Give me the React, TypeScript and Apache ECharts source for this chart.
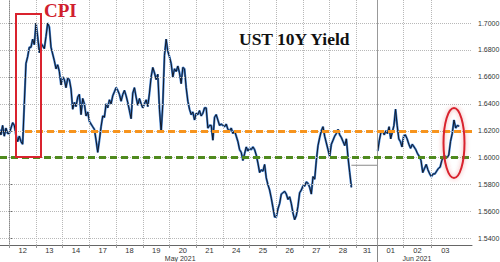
import React, { useEffect, useRef } from 'react';
import * as echarts from 'echarts';

// ---- data ----
const dayLabels = ['12', '13', '14', '17', '18', '19', '20', '21', '24', '25', '26', '27', '28', '31', '01', '02', '03'];
const dayStart = [0, 1, 2, 3, 4, 5, 6, 7, 8, 9, 10, 11, 12, 13, 13.8, 14.77, 15.81];
const dayWidth = [1, 1, 1, 1, 1, 1, 1, 1, 1, 1, 1, 1, 1, 0.8, 0.97, 1.04, 1.04];
const slotsPerDay = 16;

const preSessionStart = -0.375;
const preSessionValues = [1.621, 1.617, 1.624, 1.616, 1.622, 1.618];

const dayValues: number[][] = [
  [1.618, 1.622, 1.626, 1.624, 1.617, 1.612, 1.616, 1.612, 1.61, 1.64, 1.67, 1.675, 1.682, 1.682, 1.688, 1.684],
  [1.7, 1.69, 1.678, 1.685, 1.683, 1.681, 1.69, 1.7, 1.697, 1.682, 1.677, 1.672, 1.666, 1.669, 1.664, 1.654],
  [1.66, 1.658, 1.652, 1.659, 1.658, 1.651, 1.636, 1.641, 1.638, 1.645, 1.647, 1.632, 1.644, 1.64, 1.631, 1.634],
  [1.627, 1.625, 1.623, 1.621, 1.613, 1.604, 1.613, 1.623, 1.631, 1.63, 1.64, 1.637, 1.643, 1.64, 1.646, 1.649],
  [1.652, 1.65, 1.647, 1.642, 1.647, 1.65, 1.646, 1.641, 1.635, 1.629, 1.648, 1.652, 1.645, 1.639, 1.644, 1.64],
  [1.637, 1.64, 1.643, 1.638, 1.648, 1.66, 1.667, 1.663, 1.658, 1.662, 1.636, 1.619, 1.64, 1.676, 1.688, 1.679],
  [1.675, 1.67, 1.66, 1.666, 1.664, 1.668, 1.663, 1.655, 1.667, 1.666, 1.652, 1.642, 1.636, 1.632, 1.634, 1.628],
  [1.633, 1.632, 1.635, 1.631, 1.633, 1.637, 1.637, 1.622, 1.624, 1.624, 1.613, 1.63, 1.632, 1.628, 1.624, 1.625],
  [1.624, 1.623, 1.625, 1.621, 1.62, 1.622, 1.618, 1.62, 1.616, 1.612, 1.606, 1.604, 1.598, 1.603, 1.608, 1.605],
  [1.607, 1.606, 1.608, 1.606, 1.602, 1.596, 1.589, 1.591, 1.59, 1.595, 1.585, 1.58, 1.576, 1.57, 1.563, 1.556],
  [1.556, 1.562, 1.566, 1.573, 1.574, 1.575, 1.573, 1.569, 1.571, 1.566, 1.559, 1.554, 1.557, 1.564, 1.574, 1.576],
  [1.579, 1.579, 1.582, 1.581, 1.578, 1.573, 1.586, 1.584, 1.598, 1.609, 1.615, 1.62, 1.623, 1.616, 1.611, 1.606],
  [1.601, 1.61, 1.613, 1.616, 1.618, 1.621, 1.617, 1.615, 1.612, 1.609, 1.614, 1.6, 1.589, 1.578],
  [],
  [1.605, 1.613, 1.619, 1.62, 1.617, 1.62, 1.618, 1.623, 1.614, 1.619, 1.624, 1.636, 1.624, 1.614, 1.612, 1.608],
  [1.616, 1.617, 1.614, 1.61, 1.607, 1.61, 1.608, 1.606, 1.603, 1.601, 1.598, 1.589, 1.592, 1.595, 1.591, 1.588],
  [1.586, 1.588, 1.588, 1.59, 1.592, 1.593, 1.598, 1.601, 1.601, 1.6, 1.602, 1.612, 1.618, 1.628, 1.622, 1.624, 1.6233],
];

const holidayClose = 1.5944;
const lastPrice = 1.6233;
const cpiLevel = 1.62;
const cpiLineStart = 0.59;
const supportLevel = 1.6;
const yTicks = [1.54, 1.56, 1.58, 1.6, 1.62, 1.64, 1.66, 1.68, 1.7];
const monthLabels = ['May 2021', 'Jun 2021'];
const monthLabelPos = [6.4, 15.27];
const monthBoundary = 13.8;
const xMin = -0.348;
const xMax = 17.33;
const yMin = 1.5352;
const yMax = 1.7171;

export default function App() {
  const ref = useRef<HTMLDivElement>(null);

  useEffect(() => {
    if (!ref.current) return;
    const chart = echarts.init(ref.current, undefined, { renderer: 'svg' });

    const yieldData: any[] = [];
    preSessionValues.forEach((v, i) => yieldData.push([preSessionStart + i / slotsPerDay, v]));
    dayValues.forEach((vals, k) => {
      if (!vals.length) {
        yieldData.push([dayStart[k], '-']);
        return;
      }
      vals.forEach((v, i) => yieldData.push([dayStart[k] + (i * dayWidth[k]) / slotsPerDay, v]));
    });

    const idx28 = dayLabels.indexOf('28');
    const holidayStartX = dayStart[idx28] + ((dayValues[idx28].length - 1) * dayWidth[idx28]) / slotsPerDay;
    const holidayData = [
      [holidayStartX, holidayClose],
      [monthBoundary, holidayClose],
    ];

    const boundaries = dayStart.filter((b) => Math.abs(b - monthBoundary) > 1e-6);
    const centers = dayStart.map((s, i) => s + dayWidth[i] / 2);

    const gridLineStyle = { type: 'dotted' as const, color: '#b8b8b8', width: 1 };
    const fontAxis = 'Liberation Sans';

    chart.setOption({
      animation: false,
      backgroundColor: '#ffffff',
      grid: { left: 0, right: 28, top: 0, bottom: 17, containLabel: false, outerBoundsMode: 'none' },
      xAxis: [
        {
          type: 'value',
          min: xMin,
          max: xMax,
          position: 'bottom',
          axisLine: { show: true, lineStyle: { color: '#666', width: 1 } },
          axisTick: { show: true, customValues: boundaries, length: 3, lineStyle: { color: '#999' } },
          axisLabel: {
            customValues: centers,
            margin: 2,
            fontSize: 7.5,
            lineHeight: 7,
            fontFamily: fontAxis,
            color: '#333',
            formatter: (v: number) => {
              const i = centers.findIndex((c) => Math.abs(c - v) < 1e-6);
              return i >= 0 ? dayLabels[i] : '';
            },
          },
          splitLine: { show: false },
        },
        {
          type: 'value',
          min: xMin,
          max: xMax,
          position: 'bottom',
          axisLine: { show: false },
          axisTick: { show: true, customValues: [monthBoundary], length: 17, lineStyle: { color: '#888', width: 1 } },
          axisLabel: {
            customValues: monthLabelPos,
            margin: 9.5,
            fontSize: 7,
            lineHeight: 7,
            fontFamily: fontAxis,
            color: '#333',
            formatter: (v: number) => {
              const i = monthLabelPos.findIndex((c) => Math.abs(c - v) < 1e-6);
              return i >= 0 ? monthLabels[i] : '';
            },
          },
          splitLine: { show: false },
        },
      ],
      yAxis: {
        type: 'value',
        min: yMin,
        max: yMax,
        position: 'right',
        axisLine: { show: true, lineStyle: { color: '#888', width: 1 } },
        axisTick: { show: true, customValues: yTicks, length: 3, lineStyle: { color: '#666' } },
        axisLabel: {
          customValues: yTicks,
          margin: 6,
          fontSize: 7,
          lineHeight: 7,
          fontFamily: fontAxis,
          color: '#333',
          formatter: (v: number) => v.toFixed(4),
        },
        splitLine: { show: false },
      },
      series: [
        {
          type: 'line',
          name: 'holiday',
          data: holidayData,
          symbol: 'none',
          z: 1,
          lineStyle: { color: '#8a8a8a', width: 1 },
          markLine: {
            silent: true,
            symbol: ['none', 'none'],
            label: { show: false },
            lineStyle: gridLineStyle,
            data: [
              ...boundaries.map((b) => ({ xAxis: b })),
              ...yTicks.map((v) => ({ yAxis: v })),
              { xAxis: monthBoundary, lineStyle: { type: 'solid', color: '#999', width: 1 } },
            ],
          },
        },
        {
          type: 'line',
          name: 'UST 10Y shade',
          data: yieldData,
          symbol: 'none',
          z: 3,
          lineStyle: { color: '#3f7fcf', width: 2.2 },
        },
        {
          type: 'line',
          name: 'UST 10Y',
          data: yieldData,
          symbol: 'none',
          z: 4,
          lineStyle: { color: '#121826', width: 1 },
          markLine: {
            silent: true,
            symbol: ['none', 'none'],
            label: { show: false },
            data: [
              [
                { coord: [cpiLineStart, cpiLevel], lineStyle: { color: '#f7941d', width: 3, type: [7, 4] } },
                { coord: [xMax, cpiLevel] },
              ],
              [
                { coord: [xMin, supportLevel], lineStyle: { color: '#4f8a1e', width: 3, type: [7, 4] } },
                { coord: [xMax, supportLevel] },
              ],
              {
                yAxis: lastPrice,
                lineStyle: { opacity: 0 },
                label: {
                  show: true,
                  position: 'end',
                  distance: 2,
                  formatter: lastPrice.toFixed(4),
                  color: '#ffffff',
                  backgroundColor: '#111111',
                  borderRadius: 2,
                  padding: [2, 2, 2, 2],
                  fontSize: 7.5,
                  lineHeight: 7.5,
                  fontFamily: fontAxis,
                },
              },
            ],
          },
        },
      ],
      graphic: [
        {
          type: 'rect',
          z: 100,
          shape: { x: 16, y: 14, width: 25, height: 143 },
          style: { fill: 'none', stroke: '#d9232e', lineWidth: 2 },
        },
        {
          type: 'text',
          z: 100,
          x: 44,
          y: 10,
          style: {
            text: 'CPI',
            fill: '#d0202e',
            fontSize: 19,
            fontWeight: 'bold',
            fontFamily: 'Liberation Serif',
            verticalAlign: 'middle',
          },
        },
        {
          type: 'text',
          z: 100,
          x: 239,
          y: 39,
          style: {
            text: 'UST 10Y Yield',
            fill: '#111111',
            fontSize: 17.5,
            fontWeight: 'bold',
            fontFamily: 'Liberation Serif',
            verticalAlign: 'middle',
          },
        },
        {
          type: 'ellipse',
          z: 100,
          shape: { cx: 454, cy: 143, rx: 10.5, ry: 35 },
          style: {
            fill: 'none',
            stroke: '#d9232e',
            lineWidth: 2,
            shadowBlur: 4,
            shadowColor: 'rgba(220,60,60,0.5)',
          },
        },
      ],
    });

    return () => chart.dispose();
  }, []);

  return <div ref={ref} style={{ position: 'fixed', left: 0, top: 0, width: 500, height: 262 }} />;
}
